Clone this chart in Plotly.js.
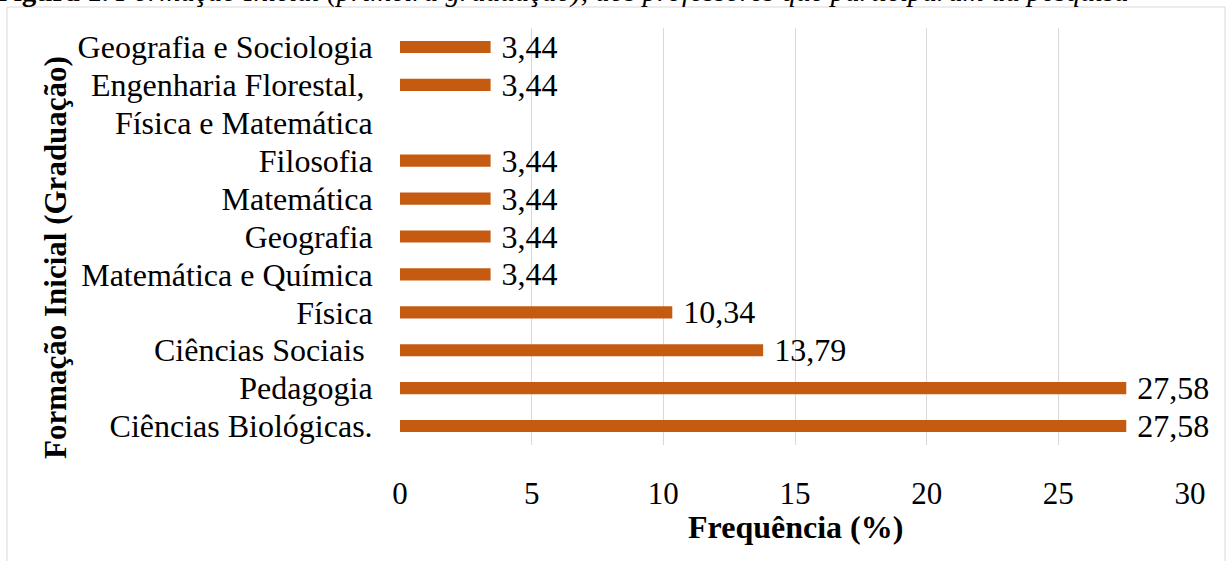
<!DOCTYPE html>
<html>
<head>
<meta charset="utf-8">
<script src="https://cdn.plot.ly/plotly-3.0.1.min.js"></script>
<style>html,body{margin:0;padding:0;background:#fff;}#chart{width:1227px;height:561px;}</style>
</head>
<body>
<div id="chart"></div>
<script>
// Categories from bottom to top (the empty slot carries the second line of a two-line label)
const categories = [
  "Ciências Biológicas.",
  "Pedagogia",
  "Ciências Sociais\u00a0",
  "Física",
  "Matemática e Química",
  "Geografia",
  "Matemática",
  "Filosofia",
  "Física e Matemática",
  "Engenharia Florestal,\u00a0",
  "Geografia e Sociologia"
];
const values = [27.58, 27.58, 13.79, 10.34, 3.44, 3.44, 3.44, 3.44, null, 3.44, 3.44];
const xTicks = [0, 5, 10, 15, 20, 25, 30];

const L = 400, R = 1190, T = 28, B = 445;
const W = R - L, H = B - T;
const px = x => (x - L) / W;
const py = y => (B - y) / H;

const serif = "Liberation Serif, Times New Roman, serif";

const trace = {
  type: "bar",
  orientation: "h",
  x: values,
  y: categories,
  marker: { color: "#C55A11" },
  width: 0.32,
  texttemplate: "\u00a0%{x:.2f}",
  textposition: "outside",
  constraintext: "none",
  cliponaxis: false,
  textfont: { family: serif, size: 32, color: "#000" },
  hoverinfo: "x+y"
};

const layout = {
  width: 1227,
  height: 561,
  margin: { l: L, r: 1227 - R, t: T, b: 561 - B },
  paper_bgcolor: "#fff",
  plot_bgcolor: "#fff",
  separators: ",.",
  showlegend: false,
  font: { family: serif, color: "#000" },
  xaxis: {
    range: [0, 30],
    tickmode: "array",
    tickvals: xTicks,
    ticktext: xTicks.map(String),
    showgrid: true,
    gridcolor: "#d9d9d9",
    gridwidth: 1,
    zeroline: false,
    showline: false,
    ticks: "outside",
    ticklen: 21,
    tickcolor: "rgba(0,0,0,0)",
    tickfont: { family: serif, size: 31, color: "#000" },
    fixedrange: true
  },
  yaxis: {
    type: "category",
    categoryorder: "array",
    categoryarray: categories,
    tickmode: "array",
    tickvals: categories,
    ticktext: categories,
    range: [-0.5, categories.length - 0.5],
    showgrid: false,
    zeroline: false,
    showline: false,
    ticks: "outside",
    ticklen: 20,
    tickcolor: "rgba(0,0,0,0)",
    tickfont: { family: serif, size: 32, color: "#000" },
    fixedrange: true
  },
  annotations: [
    {
      text: "<b>Formação Inicial (Graduação)</b>",
      xref: "paper", yref: "paper",
      x: px(55), y: py(258),
      xanchor: "center", yanchor: "middle",
      textangle: -90, showarrow: false,
      font: { family: serif, size: 31, color: "#000" }
    },
    {
      text: "<b>Frequência (%)</b>",
      xref: "paper", yref: "paper",
      x: px(795), y: py(527),
      xanchor: "center", yanchor: "middle",
      showarrow: false,
      font: { family: serif, size: 32, color: "#000" }
    },
    {
      text: "<b>Figura 1.</b> <i>Formação Inicial (primeira graduação), dos professores que participaram da pesquisa</i>",
      xref: "paper", yref: "paper",
      x: px(-6), y: py(-8.5),
      xanchor: "left", yanchor: "middle",
      showarrow: false,
      font: { family: serif, size: 29, color: "#000" }
    }
  ],
  shapes: [
    {
      type: "rect", xref: "paper", yref: "paper",
      x0: px(7), x1: px(1225), y0: py(575), y1: py(7),
      line: { color: "#d9d9d9", width: 1 },
      fillcolor: "rgba(0,0,0,0)",
      layer: "below"
    }
  ]
};

Plotly.newPlot("chart", [trace], layout, { displayModeBar: false, staticPlot: true });
</script>
</body>
</html>
